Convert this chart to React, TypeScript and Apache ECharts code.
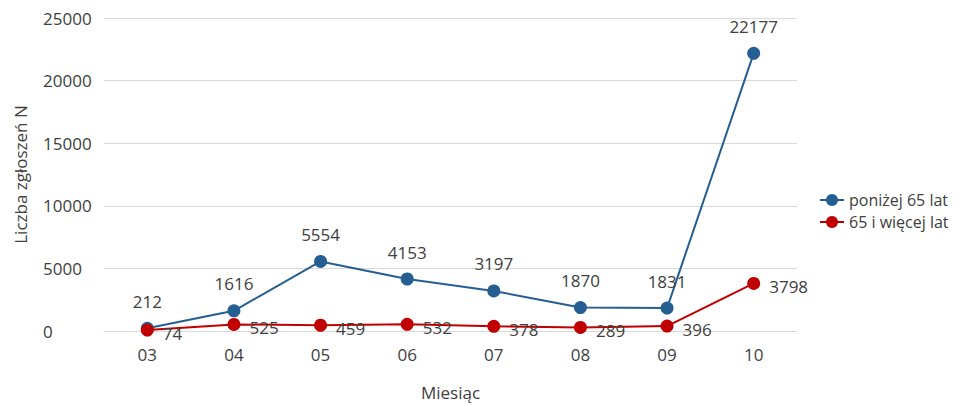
import React, { useEffect, useRef } from "react";
import * as echarts from "echarts";

const months = ["03", "04", "05", "06", "07", "08", "09", "10"];
const under65 = [212, 1616, 5554, 4153, 3197, 1870, 1831, 22177];
const over65 = [74, 525, 459, 532, 378, 289, 396, 3798];
const seriesNames = ["poniżej 65 lat", "65 i więcej lat"];

const FONT = "'Open Sans', 'Noto Sans', sans-serif";
const FS = 17;

export default function App() {
  const ref = useRef<HTMLDivElement>(null);
  useEffect(() => {
    if (!ref.current) return;
    const chart = echarts.init(ref.current, undefined, { renderer: "svg" });
    chart.setOption({
      animation: false,
      textStyle: { fontFamily: FONT },
      grid: {
        left: 96,
        right: 164,
        top: 10,
        bottom: 75,
        containLabel: false,
        outerBoundsMode: "none",
      },
      legend: {
        orient: "vertical",
        left: 806,
        top: 179,
        itemWidth: 24,
        itemHeight: 15,
        itemGap: 6,
        textStyle: { fontFamily: FONT, fontSize: 16, color: "#404040" },
        data: seriesNames,
      },
      xAxis: {
        type: "category",
        data: months,
        boundaryGap: true,
        name: "Miesiąc",
        nameLocation: "middle",
        nameGap: 53,
        nameTextStyle: { fontFamily: FONT, fontSize: FS, color: "#404040" },
        axisLine: { lineStyle: { color: "#d9d9d9", width: 1 } },
        axisTick: { show: false },
        axisLabel: { fontFamily: FONT, fontSize: FS, color: "#404040", margin: 15 },
      },
      yAxis: {
        type: "value",
        min: 0,
        max: 25000,
        interval: 5000,
        name: "Liczba zgłoszeń N",
        nameLocation: "middle",
        nameGap: 75,
        nameTextStyle: { fontFamily: FONT, fontSize: FS, color: "#404040" },
        axisLine: { show: false },
        axisTick: { show: false },
        splitLine: { lineStyle: { color: "#d9d9d9", width: 1 } },
        axisLabel: {
          fontFamily: FONT,
          fontSize: FS,
          color: "#404040",
          align: "left",
          margin: 61,
          formatter: (v: number) => String(v),
        },
      },
      series: [
        {
          name: seriesNames[0],
          type: "line",
          data: under65,
          symbol: "circle",
          symbolSize: 13,
          color: "#255e91",
          lineStyle: { width: 2, color: "#255e91" },
          label: {
            show: true,
            position: "top",
            distance: 12,
            fontFamily: FONT,
            fontSize: FS,
            color: "#404040",
          },
          z: 2,
        },
        {
          name: seriesNames[1],
          type: "line",
          data: over65,
          symbol: "circle",
          symbolSize: 13,
          color: "#c00000",
          lineStyle: { width: 2, color: "#c00000" },
          label: {
            show: true,
            position: "right",
            distance: 9,
            offset: [0, 3],
            fontFamily: FONT,
            fontSize: FS,
            color: "#404040",
          },
          z: 3,
        },
      ],
    });
    return () => chart.dispose();
  }, []);
  return <div ref={ref} style={{ width: 953, height: 398 }} />;
}
